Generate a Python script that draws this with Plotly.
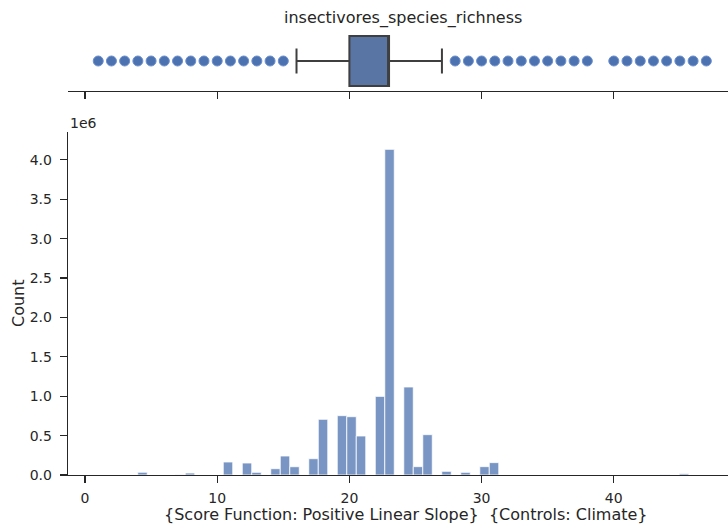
import plotly.graph_objects as go

# ---------------- data ----------------
BIN_CENTERS = [4.349, 7.222, 7.943, 10.817, 12.255, 12.974, 14.411, 15.130, 15.849,
               17.286, 18.005, 19.442, 20.161, 20.880, 22.317, 23.036, 24.473,
               25.192, 25.910, 27.348, 28.785, 30.222, 30.941, 43.876, 45.315]
COUNTS = [35000, 4000, 25000, 165000, 152000, 34000, 80000, 241000, 105000,
          207000, 707000, 753000, 740000, 495000, 998000, 4133000, 1117000,
          106000, 512000, 47000, 34000, 106000, 157000, 5000, 17000]
BIN_WIDTH = 0.7187

BOX_Q1 = 20
BOX_MEDIAN = 23
BOX_Q3 = 23
BOX_LOWER = 16
BOX_UPPER = 27
OUTLIERS = list(range(1, 16)) + list(range(28, 39)) + list(range(40, 48))

X_TICKS = [0, 10, 20, 30, 40]
Y_TICKS = [0, 500000, 1000000, 1500000, 2000000, 2500000, 3000000, 3500000, 4000000]
Y_TICK_TEXT = ["0.0", "0.5", "1.0", "1.5", "2.0", "2.5", "3.0", "3.5", "4.0"]

TITLE = "insectivores_species_richness"
X_LABEL = "{Score Function: Positive Linear Slope}  {Controls: Climate}"
Y_LABEL = "Count"

# ---------------- layout constants ----------------
W, H = 728, 529
ML, MR, MT, MB = 68, 0, 0, 54
PW, PH = W - ML - MR, H - MT - MB
INK = "#262626"
FONT = "DejaVu Sans"
XR = [-1.286, 48.64]

def px_x(p):
    return (p - ML) / PW

def px_y(p):
    return (H - MB - p) / PH

BOX_POS = 30  # within the top panel's pixel-like y scale

fig = go.Figure()

fig.add_trace(go.Bar(
    x=BIN_CENTERS, y=COUNTS, width=BIN_WIDTH,
    marker=dict(color="rgba(76,114,176,0.75)",
                line=dict(color="rgba(255,255,255,0.8)", width=1)),
    xaxis="x", yaxis="y", showlegend=False, hoverinfo="skip",
))

fig.add_trace(go.Box(
    y=[BOX_POS], q1=[BOX_Q1], median=[BOX_MEDIAN], q3=[BOX_Q3],
    lowerfence=[BOX_LOWER], upperfence=[BOX_UPPER],
    orientation="h", width=50, whiskerwidth=0.5,
    fillcolor="#5875A4", line=dict(color="#3F3F3F", width=2),
    boxpoints=False, xaxis="x2", yaxis="y2", showlegend=False, hoverinfo="skip",
))

fig.add_trace(go.Scatter(
    x=OUTLIERS, y=[BOX_POS] * len(OUTLIERS), mode="markers",
    marker=dict(size=10, color="#4C72B0", line=dict(color="#6B8FD0", width=1)),
    xaxis="x2", yaxis="y2", showlegend=False, hoverinfo="skip",
))

axis_common = dict(
    showline=True, linecolor=INK, linewidth=1.25,
    ticks="outside", ticklen=7, tickwidth=1.25, tickcolor=INK,
    showgrid=False, zeroline=False,
    tickfont=dict(family=FONT, size=14, color=INK),
)

top_bottom = (H - MB - 91) / PH

fig.update_layout(
    width=W, height=H,
    margin=dict(l=ML, r=MR, t=MT, b=MB),
    paper_bgcolor="white", plot_bgcolor="white",
    font=dict(family=FONT, color=INK),
    bargap=0,
    xaxis=dict(domain=[0, 1], anchor="y", range=XR, tickvals=X_TICKS,
               ticklabelstandoff=3, **axis_common),
    yaxis=dict(domain=[0, px_y(131.7)], anchor="x", range=[0, 4357000],
               tickvals=Y_TICKS, ticktext=Y_TICK_TEXT, ticklabelstandoff=5,
               **axis_common),
    xaxis2=dict(domain=[0, 1], anchor="y2", range=XR, tickvals=X_TICKS,
                showticklabels=False, **axis_common),
    yaxis2=dict(domain=[top_bottom, 1], anchor="x2", range=[0, 91],
                type="linear", visible=False),
    annotations=[
        dict(text=TITLE, xref="paper", yref="paper", x=px_x(403), y=px_y(18),
             xanchor="center", yanchor="middle", showarrow=False,
             font=dict(family=FONT, size=16, color=INK)),
        dict(text=X_LABEL, xref="paper", yref="paper", x=px_x(405.5), y=px_y(514),
             xanchor="center", yanchor="middle", showarrow=False,
             font=dict(family=FONT, size=16, color=INK)),
        dict(text=Y_LABEL, xref="paper", yref="paper", x=px_x(18), y=px_y(303),
             xanchor="center", yanchor="middle", showarrow=False, textangle=-90,
             font=dict(family=FONT, size=16, color=INK)),
        dict(text="1e6", xref="paper", yref="paper", x=px_x(68), y=px_y(123),
             xanchor="left", yanchor="middle", showarrow=False,
             font=dict(family=FONT, size=14, color=INK)),
    ],
)

fig.write_html("out.html", config={"displayModeBar": False, "staticPlot": True})

# remove the browser's default page margin so the figure sits at (0, 0)
with open("out.html", "r", encoding="utf-8") as f:
    html = f.read()
html = html.replace("<head>", "<head><style>html,body{margin:0;padding:0;overflow:hidden;}</style>", 1)
with open("out.html", "w", encoding="utf-8") as f:
    f.write(html)
